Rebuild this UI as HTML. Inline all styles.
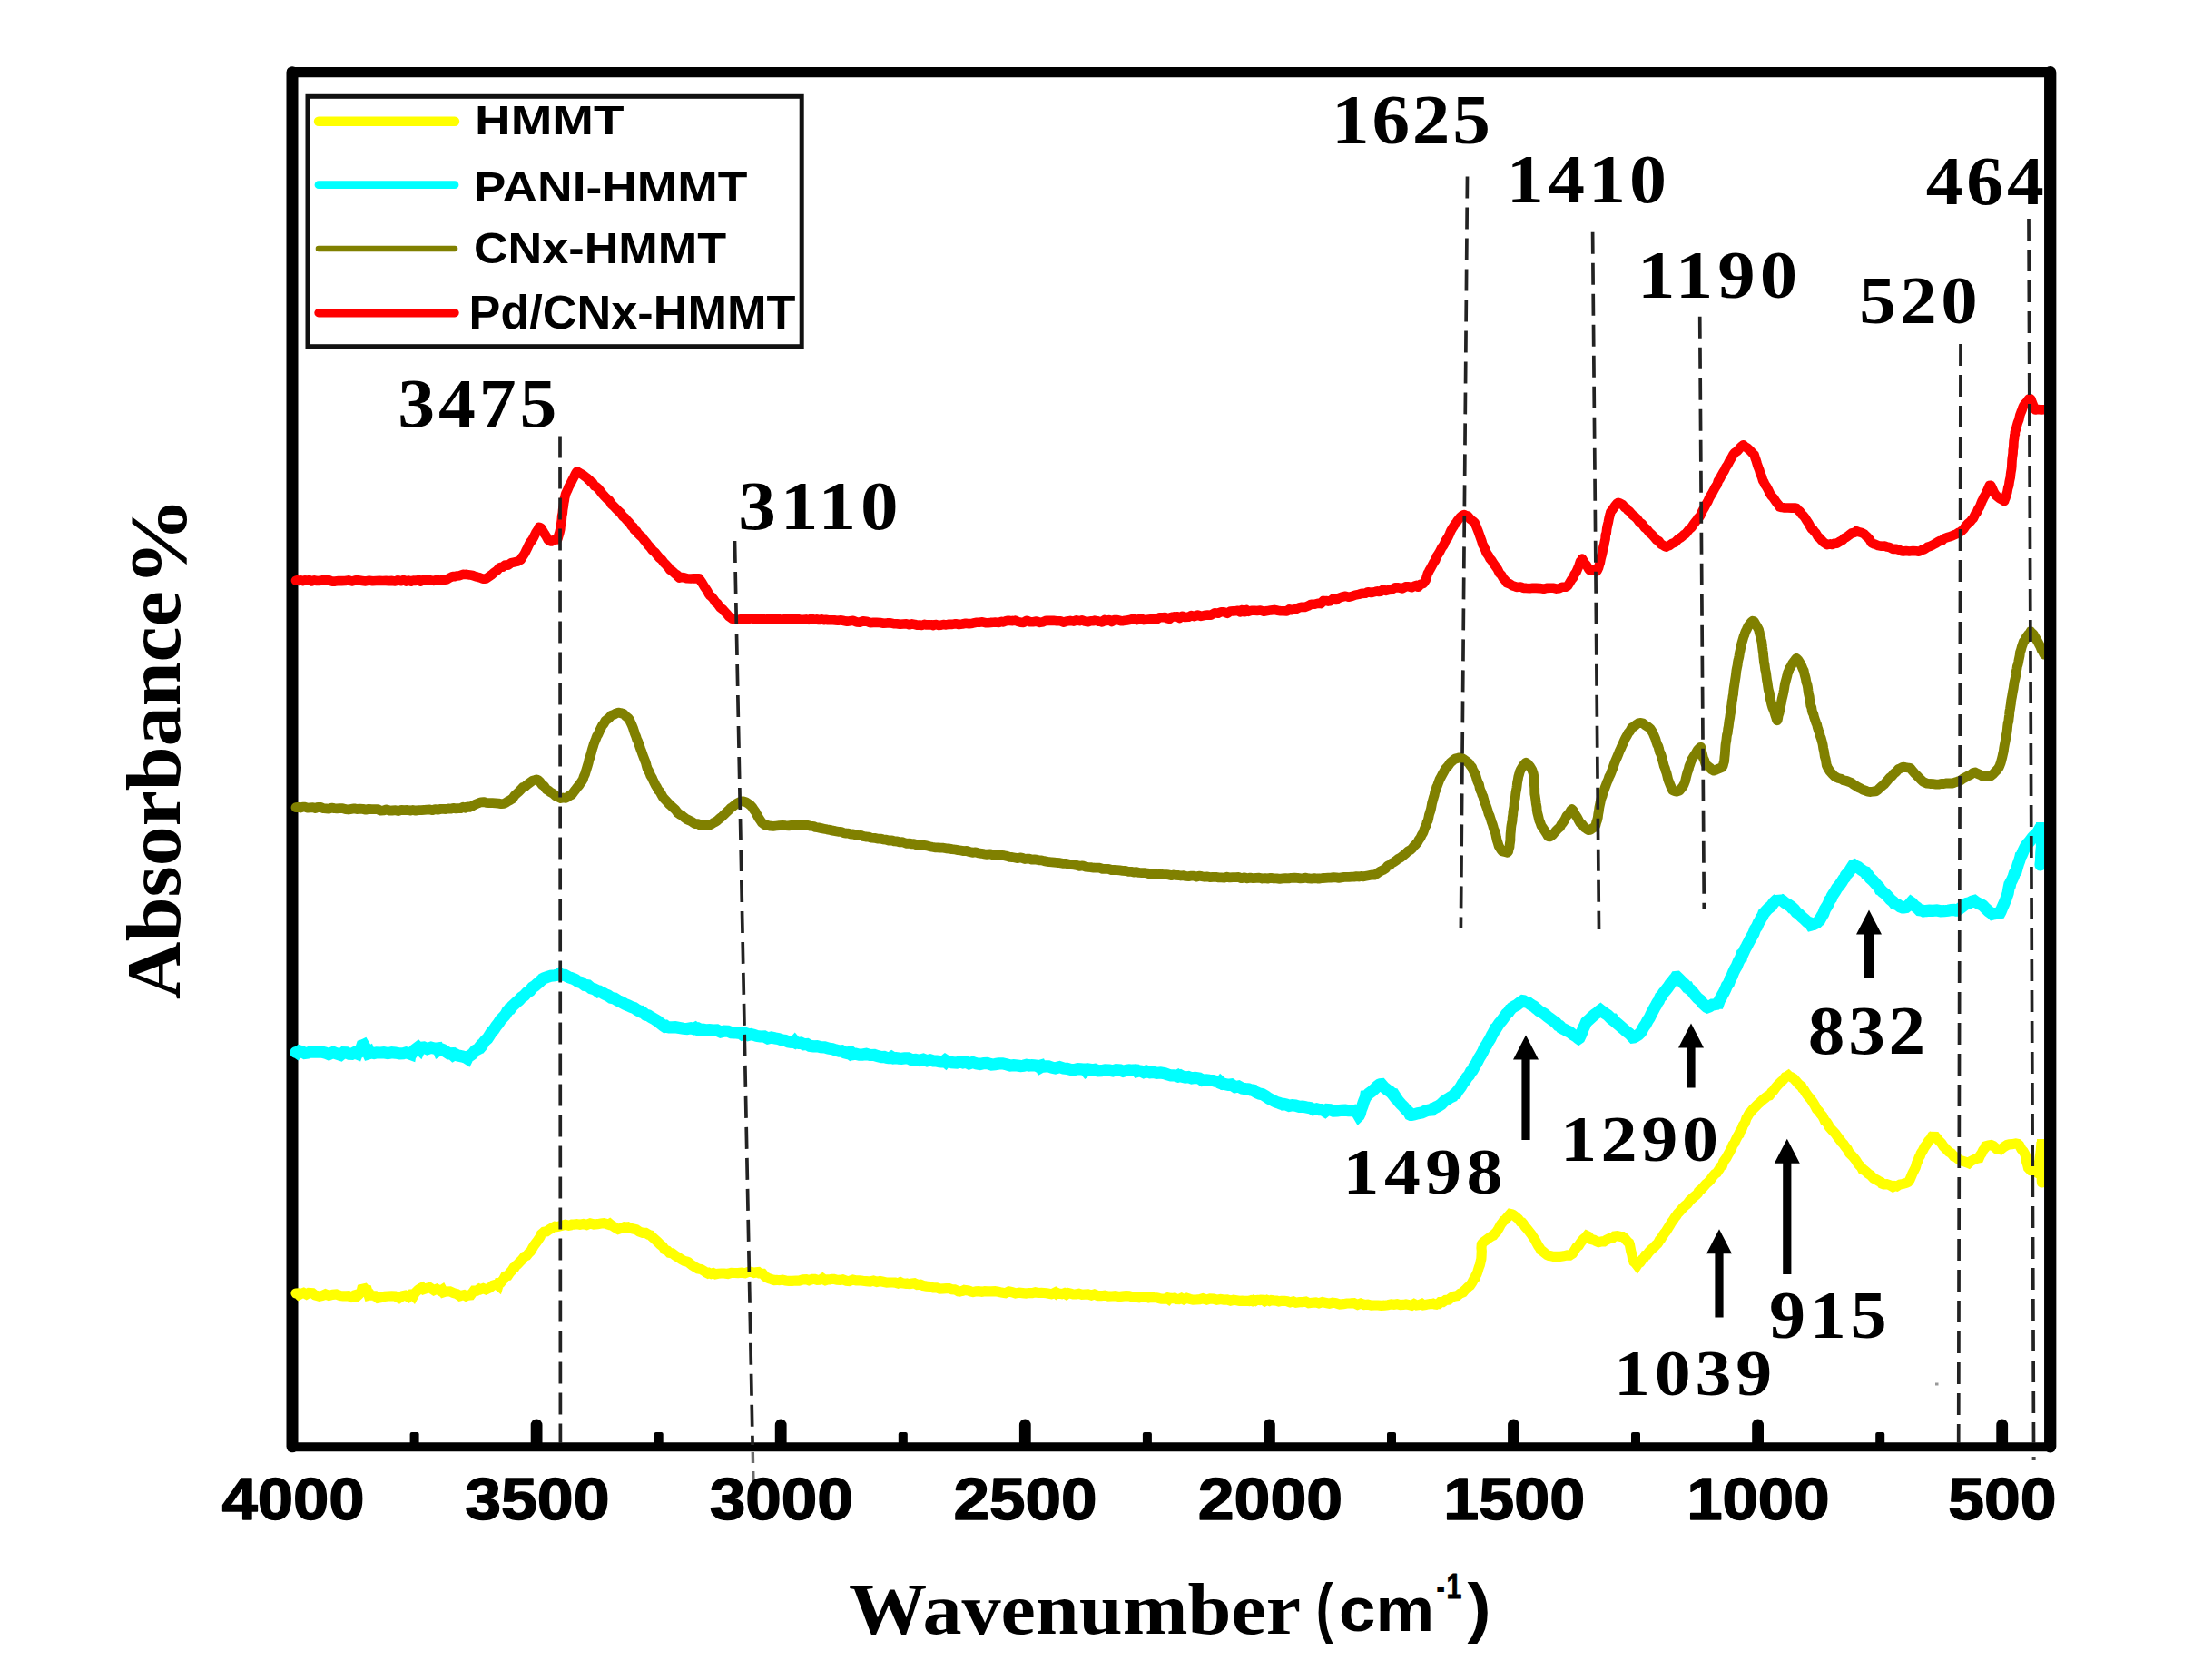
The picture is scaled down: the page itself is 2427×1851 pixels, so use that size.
<!DOCTYPE html>
<html lang="en"><head><meta charset="utf-8"><title>FTIR spectra</title>
<style>html,body{margin:0;padding:0;background:#fff}svg{display:block}</style></head><body>
<svg width="2427" height="1851" viewBox="0 0 2427 1851">
<rect x="0" y="0" width="2427" height="1851" fill="#ffffff"/>
<defs><clipPath id="plot"><rect x="300" y="60" width="1952.4" height="1560"/></clipPath></defs>
<line x1="322" y1="79.7" x2="322" y2="1593.8" stroke="#000" stroke-width="13" stroke-linecap="round" />
<line x1="322" y1="79.7" x2="2258.7" y2="79.7" stroke="#000" stroke-width="11.3" stroke-linecap="round" />
<line x1="322" y1="1594.3" x2="2258.7" y2="1594.3" stroke="#000" stroke-width="10" stroke-linecap="round" />
<g fill="none" stroke-linejoin="round" stroke-linecap="round" clip-path="url(#plot)">
<path d="M326.0,1425.0 327.5,1424.9 329.3,1426.6 331.8,1425.3 334.4,1424.4 337.6,1426.1 340.3,1424.5 344.3,1424.7 347.1,1427.0 351.8,1428.2 355.3,1427.4 358.6,1425.9 362.5,1427.4 366.6,1426.4 370.6,1426.0 374.7,1427.5 377.9,1427.9 381.3,1427.9 383.9,1427.7 387.4,1429.4 389.5,1428.8 391.0,1426.8 392.4,1426.4 393.9,1427.6 395.4,1426.2 398.0,1423.4 399.5,1417.1 400.9,1418.8 402.0,1420.6 404.3,1421.1 406.2,1427.2 407.8,1426.8 409.5,1430.2 410.9,1427.6 413.2,1427.8 416.3,1430.3 419.9,1429.5 423.9,1428.3 427.7,1428.0 431.4,1427.8 435.3,1428.0 439.7,1430.3 443.5,1427.8 446.5,1427.2 449.8,1429.0 452.8,1426.1 454.1,1426.1 455.6,1427.6 457.2,1424.6 460.5,1421.4 463.3,1419.4 465.0,1418.6 466.8,1420.5 470.2,1419.4 473.3,1418.6 478.0,1421.7 481.2,1420.2 485.1,1422.4 487.2,1421.0 488.7,1423.8 491.2,1423.0 495.7,1422.8 499.4,1424.6 503.4,1425.7 506.5,1427.8 509.8,1426.9 511.1,1426.7 513.4,1428.0 515.5,1427.1 518.6,1426.8 522.1,1422.2 525.1,1422.2 528.0,1420.1 529.5,1420.7 532.4,1419.5 535.5,1420.8 539.4,1419.0 542.8,1416.2 546.9,1415.0 548.9,1416.6 549.9,1413.2 551.9,1412.9 554.5,1409.9 556.5,1406.2 559.5,1405.5 561.7,1402.2 564.0,1399.7 565.8,1396.9 567.1,1396.4 568.3,1394.4 570.0,1393.3 572.3,1390.7 575.0,1388.1 577.6,1384.6 580.3,1383.5 582.4,1380.8 584.3,1379.0 585.6,1377.2 586.7,1375.0 588.4,1372.2 590.3,1369.6 592.6,1366.5 594.9,1363.1 596.3,1359.9 597.9,1358.5 599.2,1357.3 602.1,1356.9 605.5,1354.5 608.7,1352.7 611.4,1351.2 613.4,1351.5 615.3,1351.2 618.8,1350.4 622.8,1349.3 626.5,1350.2 628.8,1349.8 630.1,1349.1 632.5,1349.2 635.5,1348.7 638.9,1349.2 642.7,1348.5 646.4,1349.5 650.2,1347.9 654.2,1349.0 658.4,1348.7 662.1,1348.0 665.1,1347.6 667.9,1348.4 670.2,1349.2 671.7,1348.3 673.7,1350.0 676.6,1351.8 679.5,1353.7 681.0,1354.4 683.6,1353.6 687.7,1351.8 690.2,1352.3 691.9,1351.9 694.4,1353.2 697.6,1354.0 701.0,1354.8 704.2,1356.9 708.1,1358.3 711.3,1358.3 714.5,1360.3 716.7,1360.9 718.2,1362.5 719.6,1363.9 721.7,1365.6 724.6,1368.4 727.4,1371.2 730.1,1373.3 732.3,1376.7 733.7,1377.4 735.3,1378.0 737.5,1380.4 740.6,1380.9 744.2,1383.5 747.4,1385.4 750.8,1387.8 754.0,1389.4 756.8,1390.0 758.1,1390.6 760.1,1392.2 762.6,1394.1 765.6,1396.0 768.9,1397.9 772.5,1398.6 775.7,1400.4 778.2,1402.2 779.9,1403.1 781.2,1402.5 783.4,1403.5 785.7,1402.6 788.2,1403.8 791.1,1403.2 794.5,1403.0 797.8,1403.0 801.8,1403.5 805.7,1402.4 809.4,1402.5 813.0,1402.6 817.0,1402.2 820.9,1402.7 824.2,1401.5 827.4,1401.3 830.6,1402.4 833.0,1401.9 835.4,1401.6 837.0,1403.0 838.3,1403.0 840.2,1403.2 843.0,1406.5 846.0,1408.2 847.9,1408.9 849.1,1409.3 850.7,1409.8 853.1,1410.5 855.7,1410.3 858.5,1410.7 862.1,1410.1 865.5,1411.0 869.1,1411.4 872.7,1411.3 876.8,1411.0 880.4,1411.2 884.5,1409.9 888.2,1409.6 891.2,1410.8 894.9,1409.4 897.6,1409.4 900.5,1410.4 902.7,1410.3 905.0,1409.5 906.2,1408.7 908.1,1410.1 909.3,1410.7 911.7,1409.9 914.0,1409.9 916.2,1409.4 918.9,1409.3 922.2,1410.3 925.1,1410.4 928.5,1409.8 932.4,1411.2 935.5,1411.5 939.7,1410.0 943.3,1410.9 946.9,1410.8 950.8,1411.3 954.4,1411.6 958.7,1412.0 962.3,1411.1 966.0,1412.4 969.5,1411.5 973.0,1412.3 977.0,1413.2 980.3,1413.0 983.2,1413.0 986.2,1413.1 989.2,1414.0 991.8,1412.7 994.0,1413.8 995.8,1414.1 997.8,1414.4 999.2,1414.1 1000.4,1414.4 1002.1,1414.5 1004.7,1414.1 1007.3,1413.8 1010.5,1415.5 1013.9,1415.2 1017.0,1416.5 1020.7,1417.1 1024.3,1417.4 1028.2,1418.9 1032.0,1418.8 1035.3,1420.0 1039.3,1419.8 1042.5,1419.6 1045.6,1419.6 1048.6,1420.7 1051.7,1420.8 1053.8,1421.7 1055.8,1422.8 1057.3,1423.0 1058.3,1422.7 1060.4,1422.4 1062.5,1421.4 1064.3,1421.7 1066.8,1421.9 1069.1,1422.8 1072.1,1423.6 1075.2,1422.9 1078.2,1422.7 1081.6,1423.3 1085.1,1422.7 1088.2,1422.8 1091.9,1422.8 1096.0,1422.7 1099.9,1423.3 1103.2,1424.1 1107.6,1424.7 1111.4,1422.9 1115.0,1423.7 1118.7,1424.9 1123.0,1424.1 1126.5,1424.6 1130.4,1425.1 1133.6,1424.5 1137.3,1424.6 1140.5,1423.8 1143.8,1424.5 1147.3,1424.4 1150.0,1424.5 1152.9,1424.8 1155.6,1425.3 1158.3,1425.8 1160.0,1425.3 1162.4,1424.1 1163.9,1425.5 1165.1,1424.7 1166.6,1425.4 1168.3,1425.3 1169.9,1425.7 1172.5,1424.8 1174.7,1426.2 1176.7,1424.6 1179.6,1425.2 1182.2,1426.0 1185.2,1426.0 1188.6,1425.2 1191.9,1426.3 1195.2,1426.1 1198.6,1425.9 1202.4,1427.1 1205.7,1426.0 1209.7,1427.6 1213.2,1427.7 1217.1,1427.2 1221.0,1428.2 1225.3,1428.0 1228.9,1427.6 1233.0,1428.6 1236.5,1428.1 1240.6,1427.6 1243.9,1427.8 1247.9,1428.9 1251.4,1429.3 1254.9,1429.7 1258.7,1428.7 1261.9,1428.6 1265.4,1430.0 1268.2,1429.3 1271.5,1429.6 1274.0,1429.7 1276.9,1430.5 1279.6,1431.1 1281.6,1431.2 1283.6,1431.0 1285.5,1430.1 1287.4,1431.4 1288.5,1430.1 1289.9,1430.4 1291.7,1430.5 1293.8,1430.1 1296.1,1431.4 1298.6,1431.6 1301.5,1430.3 1304.2,1431.8 1307.5,1430.2 1310.9,1431.3 1314.4,1432.2 1317.6,1432.0 1321.7,1431.6 1325.1,1430.7 1329.4,1432.1 1333.1,1430.9 1337.0,1431.1 1340.5,1432.2 1344.6,1431.4 1348.4,1432.1 1351.8,1432.0 1355.6,1433.2 1359.0,1432.3 1362.4,1432.8 1365.4,1433.3 1368.5,1433.2 1371.4,1433.3 1374.0,1433.3 1376.1,1433.6 1378.2,1432.8 1379.7,1433.4 1381.0,1432.6 1382.8,1433.3 1383.8,1432.6 1385.6,1432.3 1387.7,1432.6 1389.2,1432.1 1391.5,1432.3 1393.4,1433.7 1395.8,1432.4 1398.5,1433.5 1400.6,1432.5 1403.3,1432.9 1406.3,1433.1 1408.9,1434.0 1411.8,1433.3 1415.1,1433.3 1418.1,1433.7 1421.3,1434.9 1424.8,1433.9 1427.8,1435.3 1431.6,1434.7 1434.7,1434.7 1438.6,1434.0 1441.9,1435.7 1445.6,1435.2 1449.6,1434.9 1452.9,1435.8 1456.8,1434.6 1460.8,1435.5 1464.5,1436.3 1468.0,1435.3 1472.0,1435.8 1476.0,1437.0 1480.1,1436.7 1483.8,1436.0 1487.8,1435.9 1491.7,1435.7 1495.6,1437.5 1499.1,1436.1 1502.8,1437.5 1506.8,1437.1 1510.7,1438.1 1514.3,1438.0 1518.0,1438.0 1521.5,1438.3 1525.2,1438.2 1529.0,1437.7 1532.7,1436.9 1535.8,1437.3 1539.2,1436.8 1542.7,1437.6 1546.0,1437.4 1548.9,1436.9 1552.4,1437.6 1555.2,1438.3 1557.9,1436.6 1560.6,1438.0 1563.4,1437.6 1566.3,1436.4 1568.3,1437.9 1570.7,1437.5 1573.1,1436.9 1575.1,1436.6 1577.3,1436.6 1578.9,1436.2 1580.7,1437.0 1582.4,1437.2 1583.6,1436.6 1584.8,1436.6 1586.5,1434.7 1589.5,1434.7 1592.6,1432.5 1596.0,1432.1 1599.1,1429.5 1601.6,1428.4 1603.3,1428.0 1605.5,1427.7 1608.7,1425.2 1611.9,1423.8 1613.5,1421.9 1614.8,1420.6 1617.2,1418.2 1619.6,1416.3 1621.9,1412.9 1623.7,1409.4 1625.0,1408.2 1625.6,1406.1 1626.9,1403.9 1628.0,1400.8 1629.4,1396.0 1630.4,1393.6 1631.2,1389.8 1631.8,1387.5 1631.9,1386.8 1632.1,1383.1 1632.3,1378.3 1632.0,1375.2 1632.3,1371.1 1632.9,1370.1 1634.5,1368.3 1637.1,1366.4 1640.7,1363.8 1643.6,1361.8 1645.2,1361.1 1646.5,1359.4 1648.8,1357.2 1651.0,1353.7 1653.4,1349.2 1655.4,1346.6 1656.6,1344.8 1658.2,1344.0 1661.0,1340.8 1663.8,1337.5 1665.8,1338.0 1667.0,1338.4 1669.8,1340.6 1672.7,1343.0 1675.0,1346.2 1676.9,1346.9 1678.2,1348.3 1680.1,1351.4 1682.5,1354.1 1684.9,1357.1 1686.8,1359.6 1688.0,1361.3 1689.3,1363.5 1690.8,1365.6 1692.8,1369.2 1694.7,1372.8 1696.4,1375.1 1697.5,1377.3 1698.9,1378.1 1701.9,1380.6 1704.5,1382.6 1706.5,1383.5 1707.9,1383.6 1711.3,1384.4 1714.9,1384.4 1718.8,1384.3 1722.8,1383.8 1726.6,1382.8 1729.5,1383.0 1731.3,1381.8 1732.5,1381.1 1734.6,1377.9 1736.7,1374.4 1739.2,1372.5 1740.5,1370.3 1742.0,1368.2 1744.4,1365.2 1746.9,1363.3 1748.3,1361.5 1750.0,1362.3 1752.9,1365.5 1756.2,1366.3 1758.2,1367.5 1761.1,1368.6 1764.7,1367.8 1767.2,1367.9 1769.8,1366.1 1773.0,1364.6 1776.7,1363.8 1778.6,1362.1 1781.6,1361.6 1785.1,1362.5 1787.7,1362.6 1789.7,1364.1 1793.0,1368.1 1794.7,1369.5 1795.4,1371.3 1795.9,1374.0 1796.8,1378.7 1798.0,1382.8 1798.5,1386.1 1799.7,1389.0 1800.0,1390.3 1801.8,1391.9 1803.5,1394.1 1804.6,1392.4 1807.0,1390.9 1809.3,1387.6 1811.4,1385.8 1812.6,1383.2 1814.3,1382.7 1816.7,1379.3 1819.7,1376.2 1822.4,1373.9 1824.5,1371.6 1826.1,1370.2 1827.3,1368.4 1828.3,1366.3 1829.8,1365.1 1831.7,1361.8 1833.7,1358.8 1835.3,1357.0 1837.7,1353.0 1839.8,1349.7 1841.4,1346.8 1843.5,1344.1 1845.3,1341.1 1846.7,1339.6 1848.1,1337.3 1848.9,1336.4 1849.8,1335.6 1851.5,1333.6 1853.6,1331.2 1856.3,1328.5 1858.9,1326.5 1861.4,1323.0 1864.1,1320.4 1866.3,1318.5 1868.7,1316.5 1870.5,1314.8 1871.3,1313.0 1872.7,1311.5 1874.4,1310.3 1876.7,1307.7 1879.2,1304.8 1881.7,1302.7 1884.2,1300.2 1886.8,1296.3 1889.2,1293.5 1891.4,1292.1 1893.1,1289.6 1894.3,1287.9 1894.8,1286.8 1896.1,1285.0 1897.5,1283.9 1898.7,1280.1 1900.3,1277.8 1901.9,1275.7 1904.0,1271.7 1905.5,1269.2 1907.6,1265.1 1909.1,1261.2 1910.7,1259.5 1912.3,1255.8 1913.6,1253.2 1915.2,1250.3 1916.1,1249.7 1916.6,1247.5 1917.5,1246.2 1919.1,1243.3 1920.4,1239.8 1922.3,1237.2 1924.0,1232.0 1925.5,1229.7 1927.2,1226.6 1928.1,1225.8 1929.2,1224.5 1931.3,1221.9 1933.6,1219.7 1936.2,1217.0 1939.2,1214.4 1942.0,1211.8 1944.9,1209.5 1947.4,1207.5 1949.5,1206.9 1950.6,1205.5 1951.8,1203.3 1954.0,1201.5 1956.3,1198.1 1959.1,1194.8 1962.2,1192.0 1964.6,1189.6 1966.9,1186.6 1968.8,1185.8 1970.1,1184.9 1971.0,1185.8 1973.2,1186.5 1976.1,1188.4 1978.9,1191.4 1981.3,1194.3 1983.5,1196.2 1984.8,1197.1 1985.8,1199.2 1987.3,1200.5 1988.8,1203.1 1990.7,1206.0 1993.0,1208.9 1994.9,1211.1 1997.3,1214.6 1999.4,1218.1 2001.5,1222.1 2003.7,1224.3 2005.6,1227.1 2007.7,1229.5 2009.3,1232.6 2010.4,1235.1 2011.6,1236.0 2012.5,1236.6 2014.0,1239.1 2015.4,1241.8 2017.3,1244.0 2019.7,1246.6 2022.0,1249.0 2024.4,1252.5 2026.6,1255.4 2029.0,1258.5 2031.1,1260.7 2032.6,1263.1 2034.2,1265.1 2035.2,1266.1 2036.3,1268.5 2037.7,1270.6 2039.9,1272.8 2042.2,1275.3 2044.6,1278.4 2046.9,1282.2 2048.9,1284.4 2050.6,1286.0 2051.9,1288.7 2053.3,1288.9 2055.3,1290.4 2058.1,1293.1 2060.9,1294.9 2064.0,1298.1 2067.0,1299.7 2069.6,1301.2 2072.0,1302.4 2073.2,1304.2 2075.1,1304.9 2078.6,1304.6 2082.2,1305.8 2085.4,1307.6 2087.5,1306.6 2089.6,1307.0 2093.1,1305.0 2096.7,1304.4 2100.2,1303.3 2102.0,1302.5 2103.0,1301.3 2104.0,1299.8 2105.6,1296.0 2107.0,1292.6 2108.6,1289.6 2110.3,1286.3 2111.7,1281.3 2113.1,1278.4 2114.2,1275.2 2115.4,1273.4 2116.1,1271.0 2117.0,1269.6 2118.4,1267.5 2120.2,1263.8 2122.6,1260.6 2124.6,1257.3 2126.6,1255.3 2128.6,1251.8 2129.5,1251.2 2130.5,1249.6 2131.5,1251.4 2133.5,1253.6 2136.0,1256.8 2138.8,1259.5 2141.1,1263.1 2142.4,1264.4 2144.1,1266.2 2146.9,1269.0 2149.7,1270.6 2152.4,1273.9 2154.1,1274.5 2156.5,1276.2 2159.4,1278.4 2163.3,1279.5 2166.5,1280.7 2168.8,1281.7 2171.0,1279.5 2174.4,1277.8 2178.4,1276.1 2180.3,1275.8 2181.4,1273.1 2183.2,1270.7 2184.8,1267.2 2186.6,1265.1 2187.5,1262.8 2190.7,1261.9 2193.5,1261.5 2196.0,1262.6 2199.4,1265.6 2201.7,1266.2 2204.0,1266.6 2207.5,1263.9 2211.2,1261.5 2213.6,1260.8 2216.5,1260.7 2220.7,1260.0 2223.2,1260.5 2224.6,1261.7 2227.0,1266.3 2229.1,1268.5 2230.7,1271.4 2231.3,1272.8 2231.8,1276.4 2232.7,1280.5 2233.6,1282.9 2234.5,1286.8 2235.4,1287.7 2237.4,1289.6 2240.6,1290.0 2242.2,1290.9 2243.3,1288.0 2244.7,1284.4 2246.4,1280.9 2247.0,1278.3 2247.2,1275.7 2247.5,1273.8 2248.2,1268.9 2248.5,1265.1 2248.9,1260.6 2249.1,1258.6 2248.8,1257.8 2249.0,1258.2 2248.9,1259.3 2248.8,1261.8 2249.0,1264.2 2249.1,1267.3 2249.3,1271.6 2249.3,1275.2 2249.1,1279.5 2249.2,1284.7 2249.3,1287.6 2249.2,1292.5 2249.4,1296.1 2249.3,1299.1 2249.3,1300.7 2249.5,1303.0" stroke="#ffff00" stroke-width="11.2" stroke-linejoin="miter" stroke-miterlimit="1.9"/>
<path d="M326.0,1159.5 327.0,1159.4 328.0,1160.1 330.1,1158.2 333.0,1159.0 335.7,1160.4 338.9,1160.1 342.3,1158.9 346.5,1159.1 350.4,1158.9 354.4,1159.1 358.3,1160.0 362.2,1161.6 367.2,1159.4 370.5,1160.8 375.2,1162.3 378.4,1159.7 381.8,1159.8 384.8,1161.3 387.5,1161.4 390.5,1159.8 392.0,1160.4 393.3,1160.9 393.6,1160.1 395.5,1159.5 397.2,1157.0 398.9,1152.0 400.2,1151.6 400.8,1151.3 403.1,1155.2 405.2,1159.8 406.7,1159.0 407.3,1160.4 409.0,1159.9 412.0,1160.5 415.0,1159.8 418.9,1160.0 422.6,1159.7 427.3,1160.6 431.5,1159.7 435.7,1160.1 440.4,1160.9 444.2,1160.8 447.5,1159.8 449.5,1160.3 452.1,1161.3 452.5,1158.9 454.2,1160.2 456.9,1156.6 460.5,1153.9 462.4,1155.8 463.1,1154.3 466.8,1153.9 470.7,1155.7 475.0,1154.2 479.1,1155.3 482.5,1154.9 483.3,1157.0 485.3,1155.7 488.2,1156.8 491.5,1158.9 494.5,1160.9 497.4,1160.8 499.2,1162.5 501.2,1161.3 504.4,1163.0 509.3,1163.9 512.7,1165.0 514.8,1166.3 515.4,1165.1 518.1,1162.9 520.7,1161.2 523.6,1157.4 526.7,1155.8 528.9,1153.0 530.0,1153.3 530.7,1152.5 531.7,1150.7 532.9,1148.6 534.7,1146.3 537.0,1144.4 539.2,1140.9 541.6,1137.1 544.0,1134.6 546.6,1130.7 549.2,1127.5 551.3,1124.0 553.8,1121.3 555.9,1119.2 557.5,1117.1 559.0,1114.0 560.0,1113.2 560.6,1112.8 561.3,1111.6 562.4,1111.4 564.2,1108.9 566.4,1106.7 569.0,1104.4 571.7,1102.2 574.5,1099.1 577.7,1096.9 580.6,1093.5 583.8,1091.6 586.6,1088.0 589.3,1086.3 591.9,1083.9 594.0,1082.4 595.7,1080.5 597.0,1079.5 597.7,1078.6 599.3,1077.7 602.8,1076.5 606.8,1075.3 611.2,1074.8 614.7,1074.1 616.5,1072.9 618.3,1074.2 622.5,1074.5 626.5,1076.8 628.6,1077.5 629.5,1077.7 631.4,1078.3 633.9,1079.5 636.9,1081.7 640.4,1082.5 644.1,1085.4 647.8,1085.9 651.2,1088.8 654.3,1089.6 656.5,1090.8 658.7,1092.5 659.7,1092.1 660.3,1092.2 661.8,1093.0 664.2,1094.2 666.7,1095.6 669.8,1096.9 673.3,1099.4 677.0,1100.1 680.7,1102.4 684.7,1104.2 688.4,1106.3 692.0,1107.8 695.4,1109.4 698.6,1110.5 701.1,1112.2 703.4,1113.5 705.0,1114.2 705.9,1114.7 706.8,1114.6 708.8,1116.0 711.2,1118.0 714.3,1118.9 717.7,1121.0 721.4,1123.1 725.0,1125.4 728.2,1128.1 730.8,1130.1 732.4,1131.2 733.8,1130.7 734.6,1131.3 737.0,1131.9 740.2,1131.8 743.9,1131.7 748.5,1132.5 752.8,1133.3 756.8,1133.5 761.0,1132.8 764.1,1133.6 766.1,1132.5 767.6,1133.6 768.6,1134.3 770.0,1133.5 772.6,1134.8 774.9,1134.3 778.3,1134.9 781.7,1134.7 785.7,1135.1 789.7,1135.0 793.9,1137.1 797.8,1136.1 802.0,1136.2 805.5,1137.6 809.3,1137.8 812.4,1138.2 815.2,1137.9 817.4,1139.5 819.1,1138.7 819.9,1138.1 820.8,1138.3 822.4,1138.9 824.5,1140.4 827.4,1139.6 830.5,1140.3 833.7,1141.4 837.5,1142.0 841.9,1141.9 845.9,1144.0 849.8,1143.1 854.2,1144.0 857.7,1144.6 861.8,1146.0 865.1,1146.5 868.3,1147.8 870.9,1148.2 873.1,1147.6 874.9,1148.4 875.6,1147.6 876.5,1148.7 878.0,1148.9 879.9,1149.4 882.2,1149.1 885.7,1150.8 889.1,1150.5 892.2,1152.3 896.2,1152.9 900.1,1152.7 904.1,1153.7 908.3,1153.8 912.4,1155.1 916.8,1155.6 920.5,1156.9 924.3,1158.0 927.2,1157.8 930.6,1159.8 932.9,1160.4 934.8,1159.7 936.6,1161.1 937.5,1160.5 938.4,1160.1 940.1,1161.6 942.9,1161.3 946.6,1162.1 950.2,1162.1 954.4,1161.3 958.6,1162.5 963.2,1162.4 967.1,1163.7 971.1,1164.7 974.2,1164.5 976.9,1165.4 978.7,1165.7 980.0,1165.6 981.2,1165.3 982.3,1164.6 984.5,1165.9 987.1,1165.6 990.1,1166.1 993.1,1166.3 996.6,1165.9 1000.4,1165.8 1004.5,1167.8 1008.6,1167.4 1012.9,1168.4 1017.2,1167.2 1021.3,1168.8 1024.8,1167.8 1028.4,1169.0 1031.9,1169.0 1035.0,1169.6 1037.2,1169.8 1039.3,1169.9 1040.5,1168.9 1041.6,1169.8 1042.4,1168.8 1043.5,1169.5 1045.1,1169.9 1047.3,1169.9 1049.0,1170.8 1051.6,1170.9 1054.2,1171.1 1057.7,1170.0 1060.8,1170.9 1063.9,1170.1 1067.5,1171.8 1071.6,1170.4 1075.6,1171.9 1079.7,1172.5 1083.9,1171.6 1087.6,1171.5 1092.3,1173.0 1096.3,1172.6 1100.4,1171.9 1104.5,1171.8 1109.1,1172.9 1112.9,1174.0 1116.8,1173.6 1120.7,1174.0 1124.4,1174.6 1127.7,1174.2 1130.9,1173.3 1133.8,1174.0 1136.7,1173.7 1139.3,1173.8 1141.7,1174.2 1143.3,1175.0 1144.7,1174.6 1146.2,1174.2 1146.8,1175.6 1147.5,1175.2 1149.3,1175.1 1152.1,1174.9 1155.1,1174.8 1158.8,1176.2 1162.6,1176.9 1167.3,1175.6 1171.5,1177.0 1175.5,1177.3 1179.9,1178.5 1183.6,1178.7 1187.5,1177.7 1190.8,1177.9 1192.9,1178.1 1194.9,1178.1 1196.2,1179.7 1196.8,1179.2 1198.7,1177.9 1200.4,1178.2 1203.5,1178.8 1206.2,1178.4 1209.6,1179.9 1213.5,1179.6 1217.5,1178.8 1222.0,1179.1 1225.9,1180.0 1229.8,1178.6 1234.1,1179.0 1237.4,1180.3 1241.4,1179.2 1244.0,1178.9 1247.2,1179.2 1249.3,1179.2 1250.8,1179.0 1251.7,1179.1 1252.8,1180.4 1254.6,1179.9 1256.9,1180.1 1259.9,1181.5 1262.9,1180.2 1267.0,1181.8 1270.9,1181.4 1274.5,1182.3 1278.5,1182.0 1283.0,1182.7 1286.7,1184.0 1289.8,1184.9 1292.9,1184.8 1295.0,1185.1 1296.7,1185.7 1298.0,1184.9 1299.0,1185.6 1300.5,1185.0 1302.7,1186.3 1305.8,1187.0 1309.2,1186.6 1312.9,1187.9 1316.7,1187.4 1321.1,1188.0 1324.8,1190.4 1329.0,1190.0 1332.7,1190.4 1336.2,1190.5 1338.9,1191.3 1341.8,1191.5 1343.5,1193.0 1344.3,1193.3 1345.0,1192.4 1347.3,1194.4 1349.6,1194.5 1353.1,1195.4 1356.6,1194.9 1360.8,1197.7 1364.5,1196.9 1368.6,1199.2 1372.1,1199.6 1375.6,1199.9 1378.1,1201.0 1380.2,1201.0 1380.9,1201.2 1382.0,1202.4 1384.6,1203.9 1387.6,1205.1 1390.8,1205.7 1394.4,1207.9 1398.3,1210.6 1402.6,1212.6 1405.7,1214.2 1409.1,1215.3 1411.0,1216.0 1412.1,1216.2 1413.1,1216.8 1414.7,1216.5 1417.2,1217.1 1420.2,1218.3 1423.6,1217.7 1427.2,1218.1 1431.3,1219.3 1435.0,1219.1 1439.3,1220.0 1443.3,1220.6 1446.9,1222.6 1450.4,1221.9 1453.3,1222.7 1455.8,1222.6 1457.7,1223.2 1458.5,1223.6 1459.9,1224.5 1462.2,1222.6 1465.5,1222.8 1469.0,1224.1 1473.4,1223.9 1477.8,1223.3 1482.1,1223.2 1485.5,1223.7 1489.1,1223.6 1491.2,1224.0 1492.2,1223.7 1493.8,1224.9 1496.0,1227.6 1497.0,1229.3 1497.2,1229.1 1498.4,1226.5 1499.2,1223.0 1500.9,1218.7 1502.1,1214.9 1503.1,1212.1 1504.3,1209.4 1504.6,1207.7 1505.6,1207.6 1508.0,1204.9 1511.2,1202.6 1514.4,1199.8 1517.1,1196.9 1519.6,1195.1 1520.6,1194.7 1521.9,1194.6 1524.7,1197.8 1527.9,1200.4 1531.4,1202.7 1534.1,1205.4 1535.5,1207.2 1536.4,1206.9 1538.3,1209.8 1540.5,1213.1 1543.6,1216.6 1546.4,1219.4 1548.9,1222.4 1551.6,1224.8 1553.2,1227.9 1554.1,1228.3 1555.2,1228.3 1558.1,1227.8 1562.1,1226.7 1566.4,1225.9 1570.8,1223.9 1574.5,1223.1 1577.6,1222.9 1578.8,1221.4 1580.0,1221.1 1582.0,1219.9 1584.6,1218.7 1587.9,1216.5 1591.2,1213.2 1594.9,1210.9 1597.8,1209.0 1600.8,1207.6 1602.6,1205.3 1603.6,1204.7 1604.3,1204.6 1605.3,1202.7 1607.0,1200.7 1609.4,1197.5 1611.4,1193.8 1613.8,1191.0 1616.1,1187.1 1618.5,1184.7 1620.4,1180.8 1622.1,1179.4 1623.1,1177.7 1624.0,1175.9 1624.1,1175.0 1625.4,1173.2 1626.3,1172.0 1627.8,1169.1 1629.5,1165.8 1631.7,1162.3 1633.7,1158.5 1635.7,1154.2 1637.7,1151.4 1639.8,1147.6 1641.8,1144.3 1643.6,1140.4 1644.9,1138.4 1646.1,1136.0 1647.0,1134.3 1647.5,1133.2 1648.4,1132.8 1649.9,1130.3 1651.9,1127.3 1654.5,1124.4 1657.2,1120.6 1659.7,1117.1 1661.8,1115.3 1663.6,1112.4 1664.2,1112.1 1665.6,1110.4 1668.3,1108.7 1671.4,1107.2 1674.6,1104.6 1677.4,1102.7 1678.6,1102.9 1679.9,1103.7 1683.0,1104.2 1686.1,1106.6 1689.1,1108.5 1690.3,1109.1 1691.5,1110.3 1693.0,1111.5 1695.4,1113.7 1698.4,1115.4 1701.4,1117.2 1704.8,1120.1 1708.0,1122.4 1711.2,1124.8 1714.2,1127.0 1716.5,1129.6 1718.2,1130.2 1719.1,1131.1 1720.0,1132.4 1722.8,1133.8 1725.7,1135.4 1729.5,1137.2 1732.7,1139.8 1736.0,1141.6 1738.5,1143.8 1739.1,1144.2 1740.0,1143.6 1741.2,1141.0 1742.6,1137.7 1744.0,1133.9 1745.5,1130.8 1747.0,1127.4 1747.5,1126.2 1748.6,1125.2 1750.7,1123.4 1753.8,1120.4 1756.7,1117.9 1760.0,1115.5 1762.1,1113.8 1763.3,1112.9 1764.8,1114.1 1767.9,1116.4 1771.6,1118.8 1774.8,1122.1 1776.1,1123.2 1777.4,1123.2 1779.2,1125.6 1781.6,1127.6 1784.7,1130.3 1788.1,1133.2 1791.4,1136.2 1794.7,1138.5 1797.1,1141.0 1798.9,1143.0 1800.1,1142.8 1802.0,1141.9 1805.0,1140.1 1807.0,1138.1 1807.6,1137.5 1808.7,1136.0 1809.8,1133.6 1811.2,1131.1 1813.1,1128.5 1815.1,1124.5 1817.2,1121.5 1819.0,1117.7 1821.0,1113.7 1822.6,1110.6 1824.5,1107.4 1826.1,1104.4 1827.4,1102.8 1828.2,1100.6 1828.5,1100.1 1829.1,1098.7 1830.7,1097.4 1832.6,1094.0 1835.1,1091.1 1837.4,1088.1 1840.2,1084.0 1842.2,1081.5 1844.5,1078.5 1845.7,1077.5 1846.3,1076.5 1847.6,1076.4 1850.0,1078.6 1853.0,1081.8 1856.0,1084.6 1858.2,1087.3 1859.4,1087.4 1860.2,1089.1 1862.1,1090.2 1864.4,1092.6 1867.2,1096.3 1870.2,1099.6 1873.2,1102.0 1875.9,1105.5 1878.2,1107.7 1880.2,1109.5 1881.0,1109.9 1883.1,1109.1 1886.8,1106.9 1890.8,1106.3 1892.7,1104.4 1893.5,1104.5 1894.3,1102.3 1895.1,1100.6 1896.2,1098.9 1897.7,1095.9 1899.1,1093.6 1901.1,1089.5 1902.4,1086.0 1904.6,1083.3 1906.2,1078.6 1907.9,1075.8 1909.6,1071.4 1911.5,1067.5 1913.2,1064.7 1914.5,1061.5 1915.7,1058.7 1917.1,1056.5 1918.0,1054.1 1918.7,1053.9 1919.1,1052.1 1919.3,1051.0 1920.3,1050.4 1921.4,1048.0 1922.8,1045.0 1924.4,1042.2 1926.0,1039.2 1927.8,1035.7 1930.0,1031.7 1931.9,1028.4 1933.6,1023.6 1935.6,1020.9 1937.4,1016.6 1939.1,1014.0 1940.4,1011.1 1941.4,1010.0 1942.4,1007.8 1942.8,1006.6 1943.8,1005.7 1945.8,1003.3 1948.2,1000.8 1951.3,998.3 1954.0,994.6 1956.7,992.0 1958.7,990.4 1959.4,988.6 1960.7,990.7 1963.1,991.9 1966.7,994.8 1969.8,996.7 1972.4,998.4 1973.8,1000.0 1974.6,1000.1 1976.7,1002.0 1979.1,1005.2 1981.8,1007.1 1985.1,1010.4 1988.1,1012.8 1990.9,1015.7 1993.5,1016.7 1995.0,1019.1 1996.1,1018.8 1998.0,1018.5 2001.7,1016.6 2003.8,1014.5 2004.6,1014.0 2005.8,1011.7 2007.3,1009.0 2008.7,1006.9 2010.5,1002.0 2012.5,998.9 2014.3,995.7 2015.9,991.6 2017.5,989.9 2018.3,987.5 2019.1,986.1 2019.7,985.2 2021.6,982.3 2023.7,978.7 2026.1,976.0 2028.8,972.1 2030.9,968.6 2032.6,966.7 2033.4,964.6 2034.3,963.5 2036.6,961.2 2039.2,957.1 2041.4,953.7 2042.7,953.2 2043.9,954.1 2047.1,955.5 2050.6,958.3 2053.6,960.3 2055.2,960.8 2056.2,963.1 2058.0,964.2 2060.3,967.6 2063.4,970.3 2066.1,973.3 2068.3,975.8 2070.3,977.9 2071.3,980.2 2072.2,980.6 2074.2,982.8 2076.9,984.8 2080.0,988.0 2082.6,991.1 2084.6,992.7 2085.6,993.5 2087.2,995.6 2090.0,996.3 2093.4,999.0 2096.0,1000.0 2097.3,1000.0 2099.8,999.5 2103.4,996.5 2105.4,994.2 2106.4,994.9 2108.9,997.8 2112.0,1000.0 2114.5,1002.7 2116.0,1002.8 2117.1,1002.9 2119.2,1004.0 2121.7,1003.6 2125.5,1003.1 2129.5,1003.4 2133.7,1003.0 2138.0,1003.8 2142.2,1003.7 2146.2,1003.3 2149.8,1002.6 2152.9,1002.4 2155.1,1003.1 2155.9,1003.1 2157.8,1002.0 2161.4,999.4 2164.7,996.6 2166.6,995.6 2169.1,995.0 2172.6,993.2 2175.1,992.5 2177.1,994.0 2181.0,996.1 2183.2,997.0 2184.7,997.9 2187.5,1000.9 2190.9,1004.0 2193.8,1006.1 2195.0,1007.3 2197.4,1006.7 2201.2,1006.1 2203.4,1005.7 2204.1,1004.5 2205.6,1000.6 2207.1,997.3 2209.0,992.8 2209.9,990.7 2210.6,988.0 2211.2,986.7 2212.1,984.1 2212.9,979.2 2213.7,975.4 2214.5,974.8 2214.9,972.5 2216.3,970.1 2218.2,965.8 2219.4,962.1 2220.2,960.8 2221.0,960.2 2222.0,956.7 2223.3,952.1 2224.7,948.5 2225.8,944.7 2226.2,942.9 2227.3,941.8 2229.0,937.7 2231.1,933.3 2232.0,931.8 2233.6,929.8 2236.2,926.9 2239.0,923.0 2240.5,921.5 2241.8,920.1 2244.8,917.3 2247.2,913.0 2248.3,912.6 2248.5,912.6 2248.6,916.3 2249.1,919.6 2249.1,923.8 2249.4,927.7 2249.4,930.5 2249.6,932.2 2249.5,932.9 2249.1,936.4 2248.8,940.2 2248.6,945.1 2248.5,948.4 2248.1,952.0 2248.0,953.0" stroke="#00ffff" stroke-width="13.2" stroke-linejoin="miter" stroke-miterlimit="1.9"/>
<path d="M326.0,889.7 328.6,889.3 331.3,890.0 333.6,889.2 336.3,889.2 339.0,890.2 341.8,889.9 344.7,889.6 347.6,890.5 350.3,889.3 353.5,889.5 356.4,890.7 359.3,890.8 362.3,891.1 365.4,890.1 368.4,890.6 371.3,890.8 374.4,890.6 377.4,890.6 380.8,891.6 383.9,892.0 387.1,891.4 390.3,890.8 393.2,891.5 396.6,891.2 399.8,891.4 403.0,892.1 406.3,891.4 409.4,891.7 412.8,891.7 416.2,891.6 419.3,893.2 422.8,892.9 425.7,891.9 429.3,893.2 432.2,893.0 435.8,892.7 439.0,893.5 442.2,892.4 445.4,892.7 448.7,892.4 451.8,893.1 454.9,892.5 458.0,893.1 461.2,892.7 464.2,892.6 467.4,892.3 470.3,892.1 473.5,892.0 476.5,892.7 479.4,891.7 482.2,892.1 485.6,891.4 488.2,891.4 491.2,891.5 493.9,891.0 496.9,891.2 499.4,890.4 502.4,890.9 504.8,890.6 507.4,890.6 510.1,889.2 512.7,890.2 515.2,888.8 517.4,889.4 520.4,888.0 523.6,886.3 526.9,884.9 529.9,883.8 532.7,883.6 535.5,884.3 538.9,884.7 542.5,884.6 545.9,884.8 549.2,885.1 552.3,885.7 555.2,885.4 557.7,884.2 559.8,882.7 562.2,881.4 564.8,879.8 567.0,876.4 569.5,874.1 571.9,871.9 573.9,869.9 576.1,867.5 578.3,866.8 581.0,864.3 584.0,862.1 586.8,860.1 589.3,859.4 591.2,858.8 592.8,859.6 595.0,861.6 597.0,864.5 599.6,866.3 601.9,869.7 604.2,871.0 606.3,872.7 609.1,874.2 612.1,876.8 615.3,878.3 617.9,879.5 620.4,879.0 623.3,879.3 625.7,878.0 627.5,876.6 629.7,875.8 632.0,872.7 633.8,870.4 636.0,867.3 638.1,865.0 639.8,862.4 641.0,860.8 642.3,858.7 643.2,855.6 644.5,852.9 645.3,850.1 646.3,846.9 647.3,843.6 648.3,840.2 648.9,837.2 649.9,834.5 650.8,831.6 651.8,828.0 652.7,824.6 653.5,822.2 654.2,819.7 655.3,817.0 656.3,814.5 657.6,811.0 658.8,809.2 660.4,805.7 662.0,802.4 663.6,799.2 665.3,797.3 666.9,794.2 668.8,792.7 670.9,791.1 673.6,788.1 676.4,787.3 679.0,785.8 681.2,785.1 683.5,785.5 686.8,786.5 689.5,789.1 691.9,791.1 693.5,793.0 694.8,796.0 696.1,798.8 697.3,801.7 698.5,805.5 699.6,808.8 700.8,811.7 701.7,814.7 702.7,816.7 703.8,819.6 704.8,822.7 705.7,825.2 706.9,828.3 707.7,830.7 708.9,833.9 710.2,837.2 711.4,840.2 712.2,843.4 713.3,847.2 714.5,849.1 715.8,851.8 716.8,854.6 718.2,856.7 719.2,859.0 720.7,862.1 722.1,864.9 723.7,867.6 725.1,870.5 727.0,872.2 728.7,875.4 730.2,878.1 732.0,880.3 733.5,881.9 735.3,883.7 737.4,886.1 739.5,887.9 741.7,889.9 744.2,892.2 746.4,895.4 748.9,897.3 751.3,898.6 753.7,900.6 756.2,902.5 758.4,903.5 760.4,904.4 762.9,905.8 765.8,907.6 769.0,907.7 771.8,909.4 774.3,909.5 776.8,909.2 779.6,909.0 783.0,908.6 786.1,906.5 788.1,905.6 790.6,903.8 793.1,901.6 795.5,899.7 797.9,897.4 800.3,895.0 802.4,893.1 804.7,890.6 806.8,889.2 809.4,887.0 812.2,885.0 814.7,883.6 816.9,882.9 819.4,882.9 822.3,884.1 824.6,885.5 826.4,886.9 828.5,889.0 830.6,892.2 832.2,894.4 833.9,897.7 835.5,900.6 837.6,903.7 839.4,906.4 841.7,908.1 843.7,909.3 845.9,909.5 848.8,910.2 851.9,910.4 855.2,910.0 858.6,909.6 862.1,909.4 865.5,909.7 869.0,909.9 872.3,909.2 875.9,909.3 879.0,908.6 882.2,908.8 884.8,909.5 887.5,908.8 890.1,909.4 893.0,910.2 895.8,910.3 898.5,911.5 901.6,911.9 905.0,912.6 907.9,913.2 911.0,913.8 914.1,914.3 917.2,915.2 920.3,915.7 923.3,916.3 926.5,916.3 929.5,917.7 932.3,918.2 934.8,918.1 937.2,919.2 939.7,919.0 942.6,919.9 945.3,920.6 948.2,920.3 950.9,921.4 953.9,922.0 957.1,922.1 960.1,923.2 963.3,923.3 966.6,924.1 969.8,924.1 972.8,924.8 976.0,925.1 979.2,926.2 982.3,925.8 985.2,926.9 988.2,927.0 991.0,927.9 993.9,927.7 996.3,928.5 998.9,929.4 1001.6,929.1 1004.3,929.8 1006.9,929.6 1009.6,930.9 1012.3,931.1 1015.3,931.5 1018.1,931.4 1021.1,931.8 1024.1,932.7 1027.0,933.3 1029.9,933.8 1032.9,933.8 1036.2,934.2 1039.4,934.2 1042.3,934.8 1045.7,935.0 1048.7,935.6 1052.2,936.0 1055.3,936.6 1058.3,937.0 1061.6,937.6 1065.0,937.5 1068.1,938.5 1071.3,939.3 1074.7,938.8 1078.0,939.9 1081.2,940.3 1084.3,940.9 1087.4,941.4 1090.9,940.8 1094.0,942.0 1097.2,941.7 1100.1,942.5 1103.4,942.3 1106.2,942.7 1109.4,943.4 1112.4,944.4 1115.0,944.5 1118.0,945.0 1121.1,945.6 1123.8,944.9 1126.3,945.4 1129.1,946.5 1131.8,946.1 1134.3,946.2 1136.9,947.2 1139.5,946.9 1141.9,947.2 1144.6,947.8 1147.5,947.9 1150.1,948.6 1152.8,949.1 1156.0,949.7 1158.7,949.8 1161.6,950.1 1164.5,950.5 1167.7,950.7 1170.5,951.3 1173.8,951.3 1176.9,952.0 1179.9,952.7 1183.0,952.8 1186.1,953.3 1189.1,954.3 1192.5,953.8 1195.7,955.1 1198.6,955.4 1201.8,955.6 1205.1,956.2 1208.4,956.2 1211.6,956.2 1214.7,957.4 1217.9,957.3 1221.1,957.4 1224.5,958.5 1227.4,958.3 1230.8,958.6 1233.7,958.9 1236.7,959.3 1239.9,959.5 1243.2,960.4 1246.0,960.3 1249.0,961.0 1252.2,960.7 1255.0,961.4 1257.9,961.6 1260.8,961.7 1263.6,962.0 1266.4,962.9 1269.2,962.6 1272.2,962.6 1274.9,963.7 1277.4,963.2 1279.8,963.5 1282.5,963.6 1285.1,963.7 1287.5,963.9 1290.2,964.6 1293.0,964.0 1295.6,964.4 1298.4,964.5 1301.0,965.0 1303.9,964.7 1306.6,965.4 1309.4,965.6 1312.2,965.2 1315.1,965.1 1318.2,966.0 1321.0,965.2 1324.2,965.7 1327.2,966.3 1330.1,965.8 1333.1,966.7 1336.1,966.4 1339.3,966.3 1342.6,966.9 1345.5,966.9 1348.8,967.1 1351.8,966.2 1354.9,966.9 1358.3,966.6 1361.4,966.7 1364.6,966.5 1367.6,967.7 1371.2,966.8 1374.2,967.8 1377.4,967.1 1380.8,967.7 1384.0,967.4 1387.2,967.1 1390.6,968.0 1393.8,967.6 1397.0,968.1 1400.1,967.3 1403.4,967.9 1406.6,967.8 1409.9,968.3 1413.2,967.9 1416.3,967.6 1419.6,967.9 1422.7,967.3 1426.2,967.2 1429.4,967.4 1432.6,967.9 1435.5,967.7 1438.8,967.2 1441.9,967.9 1444.8,968.1 1448.2,967.7 1451.1,968.0 1454.1,968.0 1457.2,967.5 1460.2,967.3 1463.2,967.1 1466.2,967.1 1469.1,966.7 1472.3,966.9 1474.9,967.3 1477.7,966.9 1480.9,966.4 1483.4,966.3 1486.3,966.4 1489.2,966.2 1491.7,966.1 1494.4,965.6 1497.0,966.0 1499.5,965.4 1502.4,965.8 1504.8,965.3 1507.6,964.7 1511.2,963.9 1514.1,964.2 1516.4,962.9 1518.6,961.3 1521.3,959.6 1523.8,958.5 1526.5,956.9 1528.7,954.2 1531.4,952.9 1533.5,951.0 1535.5,950.0 1537.7,948.4 1540.4,946.3 1543.0,944.9 1545.8,942.7 1548.4,940.6 1551.0,938.1 1553.8,936.6 1556.2,934.3 1558.1,931.8 1560.0,930.0 1561.7,928.1 1563.1,925.3 1564.9,923.0 1566.3,919.9 1567.9,917.4 1569.2,913.5 1570.3,910.8 1571.5,908.8 1572.0,906.0 1573.1,904.2 1573.9,900.8 1574.5,897.6 1575.4,894.9 1576.4,891.6 1576.9,889.0 1577.6,885.0 1578.4,882.2 1579.4,878.5 1580.2,876.1 1580.8,872.8 1581.8,870.6 1582.6,867.6 1583.6,865.4 1584.8,862.2 1586.0,858.9 1587.7,855.7 1589.2,852.9 1590.9,849.8 1592.4,847.1 1594.0,845.4 1595.5,843.8 1597.8,840.4 1600.5,838.1 1602.9,836.1 1605.2,835.6 1607.1,835.0 1609.4,834.8 1612.1,836.2 1615.2,838.6 1618.1,840.8 1620.1,843.8 1621.5,845.1 1622.5,848.0 1623.8,850.5 1625.0,852.4 1626.2,855.7 1627.2,859.4 1628.3,862.1 1629.5,864.5 1630.2,868.3 1631.1,871.0 1632.2,873.2 1632.9,875.7 1633.9,877.6 1634.8,881.1 1635.7,884.1 1636.9,886.7 1638.1,890.1 1639.0,892.9 1640.0,896.6 1641.2,899.0 1642.2,902.3 1643.4,906.0 1644.4,908.6 1645.1,911.3 1645.9,914.0 1646.8,915.7 1647.7,918.5 1648.4,922.2 1649.2,925.8 1650.2,928.7 1651.2,932.2 1652.5,934.3 1653.8,936.4 1654.8,937.7 1657.9,938.6 1660.6,939.3 1661.7,938.1 1662.1,935.7 1663.0,933.0 1663.2,930.4 1663.9,925.8 1663.9,923.1 1664.1,918.7 1664.5,915.0 1664.7,911.9 1665.1,908.9 1665.7,906.2 1666.1,903.6 1666.2,900.9 1666.8,897.4 1666.9,895.0 1667.4,891.9 1668.0,888.5 1668.1,885.7 1668.6,881.7 1669.3,879.2 1669.6,876.3 1669.9,873.6 1670.5,870.4 1670.9,868.1 1671.2,865.9 1671.6,862.1 1672.2,859.3 1672.8,855.7 1673.6,853.2 1674.4,850.0 1675.4,847.9 1677.1,845.2 1679.4,841.9 1681.1,840.3 1683.1,841.6 1685.7,844.7 1687.7,848.0 1688.5,850.1 1689.2,852.2 1689.8,855.5 1690.2,858.4 1690.1,861.3 1690.4,865.0 1690.7,868.6 1690.7,871.4 1690.8,874.7 1691.2,876.9 1691.6,879.9 1691.9,882.2 1692.3,885.5 1693.0,889.2 1693.2,892.4 1693.7,895.4 1694.4,898.1 1695.2,901.5 1695.8,904.1 1696.9,906.5 1698.0,909.7 1700.0,912.6 1701.9,915.5 1704.0,918.7 1705.5,921.6 1707.2,921.8 1708.6,921.3 1710.9,919.5 1713.7,916.0 1716.2,913.3 1718.5,911.4 1720.0,908.5 1721.9,906.2 1723.9,903.2 1725.9,899.0 1727.9,897.0 1729.6,894.6 1730.8,892.6 1731.7,891.7 1732.8,892.5 1734.1,895.4 1735.6,897.6 1737.6,900.7 1739.3,904.0 1741.0,906.9 1743.0,908.4 1745.4,911.5 1748.1,913.4 1749.8,914.5 1752.2,914.3 1754.9,912.2 1756.8,911.5 1758.0,909.0 1758.7,906.1 1759.6,903.6 1760.3,900.8 1760.7,897.3 1761.3,894.1 1761.8,890.1 1762.4,887.2 1763.0,884.5 1763.5,881.9 1764.2,879.3 1765.3,876.6 1766.1,873.3 1767.2,870.8 1768.3,867.5 1769.5,864.4 1770.6,861.4 1771.7,859.2 1772.8,855.7 1774.0,853.6 1775.2,850.5 1776.2,847.8 1777.2,845.5 1778.0,843.0 1779.1,839.7 1780.4,836.8 1781.6,834.0 1783.1,830.4 1784.1,827.8 1785.4,825.0 1787.0,821.3 1788.1,819.1 1789.5,815.8 1790.6,813.5 1792.2,810.8 1793.7,807.8 1795.8,805.4 1797.6,801.8 1799.7,800.7 1802.2,798.7 1804.9,796.8 1807.7,796.4 1810.0,797.0 1812.9,799.2 1815.6,800.9 1817.8,802.5 1819.3,804.8 1821.0,807.5 1822.4,810.9 1823.7,813.9 1824.6,816.9 1825.8,820.4 1827.0,822.6 1827.6,825.2 1828.5,828.6 1829.6,830.6 1830.6,833.9 1831.4,836.9 1832.4,840.5 1833.3,844.1 1834.3,846.4 1835.0,849.1 1836.0,851.7 1836.8,855.0 1837.7,858.9 1838.9,862.0 1840.0,864.7 1841.3,867.9 1842.6,870.6 1844.9,871.7 1847.2,872.1 1850.3,871.1 1852.9,867.9 1854.3,866.0 1855.5,863.4 1856.6,860.6 1857.4,857.0 1858.3,853.4 1859.1,850.5 1860.2,847.7 1860.9,844.5 1862.1,841.3 1863.0,838.6 1864.6,835.5 1866.4,832.6 1868.5,829.4 1870.6,825.9 1872.3,824.1 1873.3,823.3 1873.8,823.4 1874.4,826.6 1875.5,830.8 1876.4,835.0 1877.7,837.7 1878.8,841.3 1880.7,843.5 1883.3,845.5 1885.9,848.0 1888.0,849.1 1890.9,848.1 1894.6,846.6 1897.0,845.6 1898.2,843.6 1898.8,841.3 1899.6,838.6 1899.9,834.5 1900.3,831.1 1900.5,828.1 1900.7,824.8 1901.0,820.9 1901.3,818.6 1901.9,815.3 1902.1,813.2 1902.5,809.9 1903.3,807.3 1903.7,803.2 1904.3,800.3 1904.7,796.9 1905.1,793.8 1905.7,790.9 1906.1,787.5 1906.6,784.9 1906.9,780.9 1907.6,778.2 1907.9,775.6 1908.1,773.0 1908.7,770.1 1909.0,767.2 1909.6,764.8 1909.7,762.1 1910.2,758.3 1910.6,755.6 1911.1,752.3 1911.6,748.9 1912.2,745.1 1912.5,742.7 1912.9,739.0 1913.5,735.9 1914.2,732.7 1914.4,730.3 1914.9,727.5 1915.5,725.2 1916.0,722.8 1916.5,719.2 1917.1,716.7 1917.8,712.9 1918.5,710.2 1919.3,707.3 1920.1,704.5 1921.1,701.1 1922.0,699.0 1922.8,696.4 1924.3,693.4 1925.9,690.0 1927.9,687.3 1929.5,685.2 1930.8,684.2 1932.2,684.5 1934.2,688.0 1936.2,691.1 1937.6,693.9 1938.2,696.6 1938.9,699.2 1939.7,701.6 1940.2,704.4 1940.9,707.3 1941.3,710.5 1941.6,713.4 1942.1,717.3 1942.6,720.3 1942.7,722.9 1943.2,726.8 1943.4,729.7 1944.0,732.0 1944.4,735.2 1944.7,737.8 1945.3,740.2 1945.7,742.5 1946.1,745.8 1946.6,749.6 1947.1,751.9 1947.6,755.6 1948.1,759.1 1948.8,761.8 1949.5,764.3 1949.8,768.0 1950.6,771.1 1951.1,773.2 1951.8,776.3 1952.8,779.6 1954.3,783.0 1955.6,787.3 1956.7,790.6 1957.4,792.9 1957.8,793.8 1958.2,793.4 1958.7,791.1 1959.1,788.5 1960.1,785.6 1960.8,781.9 1961.6,778.0 1962.3,775.1 1963.0,770.8 1963.5,768.7 1964.1,766.4 1964.7,763.6 1965.4,759.9 1965.9,756.8 1966.4,753.7 1967.2,750.8 1968.1,747.3 1968.8,744.8 1969.5,741.5 1970.5,739.5 1971.3,736.8 1972.7,734.9 1974.6,731.1 1976.5,728.7 1978.2,726.2 1979.1,725.4 1980.7,726.9 1982.8,730.0 1984.7,733.5 1986.2,737.3 1987.2,739.0 1987.7,741.7 1988.6,745.0 1989.3,747.7 1989.9,751.4 1990.9,754.1 1991.5,757.1 1992.0,761.0 1992.5,764.3 1993.3,767.8 1993.6,770.9 1994.3,773.5 1994.8,777.3 1995.8,779.8 1996.2,782.6 1996.8,785.0 1997.9,787.1 1998.5,789.9 1999.5,792.9 2000.6,796.1 2001.6,798.2 2002.3,801.4 2003.6,805.3 2004.5,807.7 2005.2,810.6 2006.2,813.2 2006.8,815.4 2007.7,818.6 2008.1,820.4 2008.7,824.4 2009.4,827.4 2009.8,830.0 2010.3,833.4 2011.2,836.4 2011.8,839.9 2012.3,843.2 2013.5,845.7 2014.3,847.2 2016.1,850.0 2018.5,852.7 2021.3,855.5 2023.6,856.8 2025.8,857.6 2028.4,858.3 2031.3,859.9 2034.2,860.4 2036.8,861.4 2039.4,862.3 2041.9,864.3 2044.4,865.7 2047.1,867.5 2050.1,868.9 2052.5,870.3 2054.9,871.0 2057.5,872.2 2060.8,872.5 2063.9,872.0 2066.5,871.8 2068.6,870.5 2070.9,868.2 2073.3,866.1 2075.7,864.3 2078.0,861.5 2080.4,858.7 2082.4,856.5 2084.3,855.1 2086.8,852.0 2089.0,850.5 2091.3,847.6 2093.5,846.7 2096.5,845.2 2099.7,845.7 2102.4,846.0 2104.7,846.6 2107.1,849.4 2109.5,852.2 2111.8,854.5 2113.6,856.4 2116.2,859.1 2118.6,861.3 2120.7,862.2 2123.1,863.2 2126.1,863.5 2129.4,863.6 2132.9,864.1 2136.1,864.2 2138.7,863.4 2141.7,863.5 2144.7,862.9 2147.9,863.0 2151.4,863.0 2154.4,861.8 2156.8,861.0 2159.6,860.2 2162.7,857.9 2165.6,856.4 2168.1,854.9 2170.9,853.6 2173.5,851.8 2176.2,851.0 2178.5,852.4 2181.6,853.6 2184.0,855.0 2186.9,854.9 2190.5,855.3 2193.1,855.0 2195.3,853.3 2198.0,850.3 2200.4,848.0 2202.1,845.6 2203.1,843.3 2204.1,840.8 2205.2,836.8 2206.0,833.5 2206.6,830.6 2207.3,827.8 2207.7,824.4 2208.3,821.0 2208.9,818.0 2209.4,815.5 2209.9,812.3 2210.3,809.9 2210.9,807.4 2211.4,803.5 2211.6,801.0 2212.1,796.9 2212.8,794.6 2213.2,790.9 2213.6,788.2 2213.9,783.9 2214.5,781.1 2214.9,778.2 2215.4,775.2 2215.6,772.7 2215.9,770.8 2216.6,767.2 2216.9,765.2 2217.6,761.3 2218.2,758.4 2218.6,755.2 2219.0,752.4 2219.6,749.5 2220.4,746.2 2220.9,743.3 2221.4,739.5 2222.0,736.8 2222.4,734.0 2223.1,732.1 2223.7,729.3 2224.3,726.1 2225.1,722.3 2225.5,718.7 2226.6,715.6 2227.3,712.7 2228.4,709.6 2229.2,707.2 2230.7,705.3 2232.5,701.8 2234.3,699.4 2236.1,697.6 2237.0,695.7 2238.4,697.3 2240.1,698.8 2241.7,701.6 2243.7,704.8 2245.3,707.7 2246.3,709.7 2247.8,712.4 2249.3,716.1 2250.8,718.5 2252.0,721.1" stroke="#808000" stroke-width="10.8" stroke-linejoin="round" stroke-miterlimit="1.9"/>
<path d="M326.0,639.7 327.6,639.1 329.5,639.9 331.1,639.3 333.4,640.1 335.7,639.4 338.2,639.6 340.5,639.1 343.3,640.4 346.4,639.4 349.1,640.0 352.5,639.9 355.7,639.2 358.8,639.2 362.2,639.1 365.8,640.6 369.3,640.6 373.2,640.0 376.5,640.1 380.4,640.0 383.9,639.4 387.9,640.5 391.7,639.4 395.7,639.4 399.1,639.9 402.9,640.4 406.7,639.6 410.5,640.3 414.2,640.0 418.1,639.9 421.6,640.0 425.2,639.9 428.5,640.1 432.0,639.9 435.6,640.5 438.5,639.2 441.8,640.2 444.8,639.1 447.6,640.6 450.4,639.6 452.8,640.6 455.2,639.5 457.6,640.0 459.7,639.4 461.6,639.0 463.5,640.5 465.2,639.4 466.9,639.4 469.9,638.9 473.5,639.1 477.5,639.9 481.5,638.8 484.9,639.6 487.9,639.1 490.0,638.6 492.3,638.4 495.6,636.5 498.7,635.1 501.0,635.1 503.1,634.5 506.5,634.2 510.0,632.8 511.9,633.0 514.0,632.9 517.6,633.4 520.7,634.0 523.0,634.9 525.4,635.5 528.6,636.4 531.8,637.6 533.9,637.6 535.6,637.5 538.2,635.7 541.4,633.4 544.7,630.5 547.6,628.5 550.1,625.6 552.0,624.7 553.9,624.8 556.5,622.5 559.8,622.6 563.4,620.1 567.0,619.3 570.1,618.6 572.3,617.6 573.9,616.4 575.0,614.1 576.3,612.5 578.2,609.5 579.7,606.4 581.5,602.8 582.9,599.8 583.9,597.9 584.9,596.7 586.4,594.7 588.2,591.4 590.2,587.2 592.5,583.7 593.9,580.8 595.1,581.1 596.1,581.9 597.7,584.4 599.8,587.9 601.8,591.0 603.8,594.7 605.1,595.9 607.5,596.5 611.4,594.5 614.0,594.5 614.7,592.8 615.2,590.8 615.8,588.7 616.4,586.9 617.3,582.8 617.5,580.1 618.3,576.7 618.8,572.9 619.1,568.7 619.8,565.4 620.1,561.6 620.8,557.6 621.2,554.2 621.8,551.3 622.1,548.5 622.5,547.1 623.1,544.5 623.9,542.5 625.2,539.9 626.4,536.8 628.4,533.1 630.3,529.3 632.3,525.6 633.8,522.4 635.1,520.2 635.8,519.4 638.1,520.9 641.2,522.6 644.8,525.3 646.9,526.8 648.2,528.5 649.7,529.1 651.2,531.6 652.9,532.0 654.8,535.2 657.1,536.4 659.3,538.6 661.4,541.2 663.7,544.2 666.3,547.1 668.9,549.8 671.4,551.6 673.7,555.5 676.3,557.9 679.0,560.7 681.4,563.2 683.9,565.5 686.3,568.8 688.5,570.6 690.5,573.0 692.7,575.4 694.4,577.3 696.0,579.7 697.7,580.8 698.8,583.5 699.9,584.6 701.1,584.9 702.5,587.4 703.8,588.6 705.5,590.4 707.5,592.0 709.4,594.7 711.9,597.6 714.2,600.8 716.3,602.9 718.8,606.4 721.4,608.4 724.0,611.6 726.5,614.6 729.0,616.6 731.4,619.9 733.6,622.1 735.9,624.6 738.1,627.8 740.4,629.0 742.2,630.8 744.1,632.5 745.9,633.5 747.2,635.5 748.5,636.6 750.6,636.1 753.6,636.3 757.1,637.3 761.3,637.5 765.3,637.2 768.1,637.4 770.2,637.4 771.5,639.4 773.6,642.4 775.8,646.2 777.9,649.1 779.5,651.8 780.8,654.2 782.1,656.1 783.8,657.4 785.9,659.7 788.0,663.1 790.7,665.4 793.4,669.3 796.3,671.5 798.6,674.2 801.0,676.7 803.2,679.3 805.1,680.5 806.6,681.8 808.4,681.8 811.1,682.7 814.2,682.5 818.1,682.0 821.8,682.1 825.1,681.9 828.1,681.3 830.0,681.7 831.8,682.3 833.8,682.7 836.3,681.7 838.7,681.5 841.9,682.7 845.1,682.2 848.1,681.7 852.0,681.9 855.4,681.5 859.1,682.2 862.9,682.7 867.1,681.6 870.6,681.5 874.7,682.1 878.2,682.0 881.8,682.7 884.9,682.8 888.1,682.4 891.0,682.9 893.9,681.8 896.1,682.6 898.2,682.7 899.8,682.3 901.7,682.9 903.2,683.0 905.4,682.3 907.5,683.2 909.8,682.8 912.2,683.3 914.8,683.2 917.4,683.3 920.2,683.4 923.4,683.8 926.7,683.3 929.7,684.0 933.3,684.7 936.6,684.2 940.0,683.8 943.7,685.4 947.1,685.6 950.8,684.4 954.8,684.7 958.5,686.2 962.1,685.9 965.7,685.8 969.5,686.0 973.4,686.8 977.2,686.4 980.9,686.4 984.4,687.2 988.0,687.2 991.6,687.8 995.1,687.5 998.4,687.3 1001.5,688.3 1004.8,687.4 1007.6,687.9 1010.4,688.8 1013.2,688.5 1015.8,688.9 1018.4,687.9 1020.8,688.5 1022.7,688.3 1024.7,688.4 1026.5,688.2 1028.1,689.1 1029.6,688.3 1031.6,688.1 1033.7,688.9 1036.7,688.7 1039.3,688.0 1042.3,688.4 1045.8,687.7 1049.1,687.9 1052.8,687.2 1056.4,688.0 1060.2,687.5 1064.0,686.7 1067.6,687.3 1071.5,686.7 1075.2,685.8 1078.7,685.7 1082.2,685.3 1085.7,686.2 1088.5,686.2 1091.4,685.9 1094.1,685.7 1096.3,685.6 1098.4,685.8 1099.8,685.9 1101.3,685.7 1103.3,684.8 1105.4,685.4 1107.9,684.4 1110.0,683.7 1112.3,683.9 1115.7,684.1 1118.4,683.6 1121.6,685.0 1124.2,685.7 1127.5,685.9 1131.0,683.8 1134.8,685.3 1138.1,685.2 1141.8,684.6 1145.7,685.9 1149.3,685.2 1152.8,683.7 1157.1,683.9 1160.7,683.8 1164.1,684.2 1168.2,684.3 1172.1,685.7 1175.3,684.4 1179.0,683.9 1182.9,684.6 1185.7,683.4 1189.3,684.2 1192.1,683.3 1195.2,684.6 1198.6,685.3 1201.6,684.3 1204.2,684.3 1205.9,683.6 1208.5,684.1 1210.2,684.7 1212.1,684.8 1214.0,685.4 1215.1,684.9 1217.0,682.9 1219.2,683.9 1221.8,683.0 1224.9,685.1 1227.6,683.1 1230.8,683.0 1234.8,684.2 1237.6,684.1 1241.8,683.4 1245.5,682.7 1249.0,681.5 1252.7,683.2 1256.9,681.4 1260.1,683.1 1263.7,682.7 1267.7,682.2 1271.0,682.0 1274.3,682.4 1277.3,680.3 1280.8,680.3 1283.7,680.0 1285.6,681.2 1288.5,682.0 1290.1,680.0 1291.4,679.9 1293.6,679.4 1295.0,679.6 1297.3,679.3 1299.8,681.0 1302.5,678.8 1305.5,679.9 1309.3,679.8 1312.3,678.1 1315.8,679.1 1319.8,677.5 1322.9,678.9 1326.5,678.1 1330.5,677.6 1334.0,677.7 1338.1,675.3 1342.1,675.7 1345.1,674.3 1348.6,674.3 1352.3,675.8 1355.4,673.5 1358.4,673.4 1361.4,673.3 1363.9,672.8 1366.2,674.4 1368.0,672.1 1369.3,673.9 1371.0,674.2 1373.0,671.9 1375.5,673.8 1378.8,672.8 1382.3,672.8 1384.9,673.0 1388.5,672.5 1392.3,673.7 1396.2,673.1 1400.0,672.4 1403.9,671.9 1407.7,672.7 1410.7,673.2 1414.2,673.2 1417.5,673.5 1420.3,671.3 1422.8,672.1 1424.9,671.5 1426.7,671.7 1428.3,670.8 1431.1,669.4 1434.3,668.7 1437.5,668.9 1441.2,667.6 1444.6,665.7 1448.4,665.8 1452.0,664.7 1455.2,665.1 1457.8,661.9 1459.3,662.2 1461.5,662.0 1463.2,662.6 1465.7,662.3 1468.6,659.8 1471.7,661.0 1474.8,658.9 1478.1,657.7 1482.3,656.8 1485.6,657.8 1489.6,656.9 1493.0,655.6 1496.9,654.9 1500.3,653.9 1504.1,653.8 1507.0,652.2 1510.8,653.0 1513.4,652.4 1515.6,651.9 1517.7,651.2 1519.1,651.9 1520.9,651.7 1523.6,649.6 1526.7,650.9 1529.7,650.1 1533.0,649.7 1537.0,647.4 1540.7,647.4 1544.9,648.4 1548.6,646.3 1551.8,646.2 1555.2,647.3 1558.2,645.8 1560.5,644.9 1562.3,646.8 1565.0,643.9 1567.9,643.0 1568.8,642.0 1570.7,639.1 1571.7,635.9 1572.9,631.6 1573.9,630.4 1574.7,628.4 1575.9,626.4 1577.5,623.4 1579.1,620.4 1581.2,617.4 1582.6,613.4 1584.6,610.3 1586.1,608.0 1587.9,604.2 1589.0,602.6 1590.0,601.3 1590.7,600.1 1591.9,597.2 1593.7,594.0 1595.2,592.1 1596.9,588.4 1598.4,584.8 1600.1,581.9 1601.7,579.5 1603.0,577.2 1604.1,576.4 1605.8,573.5 1608.6,570.1 1611.2,567.9 1613.0,567.0 1614.4,567.9 1617.3,568.7 1620.0,572.1 1622.6,574.1 1624.5,575.7 1625.1,576.9 1626.4,580.0 1627.3,582.2 1628.6,585.4 1630.0,589.4 1631.0,592.4 1632.4,596.2 1633.3,599.6 1634.7,602.1 1635.2,603.9 1636.4,605.5 1637.0,607.6 1638.1,609.9 1639.8,612.2 1641.4,615.4 1643.4,617.6 1645.4,621.0 1647.6,623.9 1649.8,627.0 1651.8,631.3 1654.1,633.7 1655.9,636.9 1657.7,638.8 1659.0,640.4 1660.1,642.2 1662.8,643.1 1666.5,645.4 1669.1,646.1 1670.9,646.9 1672.8,646.8 1675.4,646.5 1678.5,647.9 1681.5,647.9 1685.2,648.3 1688.8,647.7 1692.4,647.9 1696.3,648.1 1700.6,648.8 1704.1,647.9 1708.1,647.7 1711.7,647.8 1714.8,648.6 1717.8,648.2 1720.8,646.8 1722.9,646.8 1724.9,646.7 1726.1,646.1 1727.2,645.3 1729.0,642.5 1731.0,639.1 1733.1,636.4 1734.0,634.3 1734.8,632.4 1736.4,630.6 1738.0,626.8 1739.7,622.7 1741.0,618.6 1742.5,617.2 1743.0,615.6 1744.0,617.4 1745.6,620.2 1748.0,623.0 1750.1,626.7 1751.6,628.4 1753.7,627.9 1757.0,628.4 1759.2,629.3 1759.7,628.5 1761.0,625.8 1761.8,622.8 1762.8,620.0 1763.6,615.5 1764.5,612.2 1765.5,608.0 1766.1,604.4 1766.7,601.8 1767.3,600.5 1767.5,598.8 1768.0,596.2 1768.6,593.7 1768.8,589.5 1769.7,587.4 1770.2,582.6 1770.9,579.1 1771.8,575.5 1772.4,572.2 1773.1,569.0 1773.8,566.6 1774.3,564.4 1775.2,563.0 1776.3,561.7 1778.7,558.1 1781.5,554.6 1783.0,553.8 1784.5,554.4 1787.4,555.9 1790.2,559.2 1792.1,560.1 1793.3,562.2 1795.1,563.4 1796.8,565.5 1798.8,567.6 1801.3,569.4 1803.7,571.8 1806.1,575.4 1809.1,577.3 1811.9,581.3 1814.6,583.3 1817.2,586.8 1819.8,589.0 1822.3,591.7 1824.9,594.8 1827.5,596.2 1829.4,599.2 1831.3,600.2 1833.1,601.3 1834.5,602.1 1835.7,602.6 1836.8,601.9 1839.2,601.0 1842.0,598.9 1845.4,597.6 1848.5,594.3 1851.2,592.6 1854.0,590.3 1855.3,589.0 1856.8,588.5 1858.5,586.4 1860.8,583.3 1863.6,580.9 1865.9,577.3 1868.1,574.6 1869.8,572.3 1870.9,570.6 1872.2,569.5 1873.3,567.8 1874.5,565.0 1876.1,561.9 1877.8,559.2 1879.4,556.0 1881.3,552.8 1883.1,548.7 1884.9,545.6 1886.3,543.3 1887.7,540.6 1888.7,538.7 1889.6,537.0 1890.6,535.5 1891.8,533.6 1892.8,530.1 1894.7,527.4 1896.2,524.6 1897.9,521.4 1899.8,518.4 1901.6,514.4 1903.4,512.1 1905.1,508.5 1906.8,505.6 1908.4,502.9 1909.5,500.8 1910.7,499.3 1912.0,498.3 1914.4,496.6 1917.0,493.2 1919.2,491.3 1920.6,490.2 1922.0,491.8 1924.6,493.3 1927.8,496.2 1930.3,498.9 1931.7,500.4 1932.7,501.3 1933.7,504.7 1934.5,506.7 1935.7,510.8 1937.0,514.8 1938.2,517.7 1939.3,521.9 1940.5,524.2 1941.3,526.7 1942.2,529.6 1942.9,530.4 1944.2,533.4 1946.0,536.0 1947.8,539.3 1949.7,543.3 1951.8,546.5 1953.9,548.8 1956.1,552.1 1957.8,554.6 1959.6,556.4 1960.6,558.6 1962.7,558.9 1966.0,559.5 1969.7,559.5 1973.7,559.6 1977.0,559.5 1979.2,560.0 1980.6,561.6 1983.2,564.0 1985.4,567.1 1986.8,568.3 1988.4,570.3 1990.2,573.2 1992.4,576.4 1994.4,580.2 1996.1,583.0 1997.7,583.9 1998.7,585.6 2000.6,587.5 2002.5,590.9 2004.9,593.0 2007.2,595.7 2009.4,597.8 2010.7,598.7 2013.0,600.1 2016.4,599.4 2018.8,600.0 2020.6,598.9 2023.7,598.6 2027.0,596.7 2029.9,595.1 2031.9,592.9 2033.6,592.2 2036.9,589.8 2039.9,587.5 2043.2,586.8 2045.1,585.2 2047.6,586.2 2051.5,587.2 2053.9,588.4 2055.5,590.2 2057.5,592.0 2059.8,594.5 2061.7,598.0 2063.5,599.1 2065.6,599.7 2069.1,601.1 2073.0,601.8 2076.6,601.6 2079.0,602.6 2081.4,602.9 2085.2,604.9 2089.1,604.9 2092.5,605.9 2095.0,607.2 2096.8,607.4 2099.9,607.0 2103.4,607.4 2107.5,607.0 2111.1,607.3 2113.9,607.7 2115.9,606.8 2117.8,605.8 2120.3,605.1 2123.3,602.9 2126.6,601.8 2129.8,600.2 2132.9,598.5 2135.5,596.8 2137.3,595.7 2139.2,596.0 2141.6,593.4 2145.0,592.1 2148.6,591.2 2151.8,589.8 2155.4,588.4 2157.7,586.8 2159.5,586.2 2161.1,584.9 2163.2,583.1 2165.5,579.6 2168.2,576.8 2170.9,574.5 2172.6,572.1 2173.9,571.2 2174.7,569.4 2176.1,566.5 2177.8,564.5 2179.2,561.1 2181.1,558.1 2182.6,554.3 2183.6,551.8 2184.4,550.4 2185.3,548.3 2187.0,545.5 2188.8,541.8 2190.4,538.1 2191.8,534.9 2192.4,534.7 2193.2,534.8 2195.0,538.6 2196.8,542.6 2198.8,545.7 2200.4,547.1 2202.6,548.8 2206.3,550.9 2208.1,552.1 2208.6,550.5 2209.6,548.1 2210.3,545.5 2211.4,542.2 2212.1,538.0 2213.2,534.6 2213.6,531.3 2214.2,528.2 2214.7,526.2 2214.9,524.6 2215.1,522.2 2215.4,520.1 2216.0,516.8 2216.3,513.5 2216.4,510.6 2216.6,506.7 2217.0,503.6 2217.6,499.5 2217.7,496.0 2218.3,492.5 2218.4,488.8 2218.6,485.7 2219.1,483.1 2219.3,479.7 2219.9,478.5 2219.8,476.3 2220.2,475.2 2221.1,472.6 2221.9,469.4 2223.0,465.4 2224.3,462.2 2225.3,457.5 2226.6,454.0 2227.4,452.2 2228.4,449.1 2229.1,447.5 2230.5,445.2 2232.8,442.9 2235.2,439.5 2236.4,439.1 2237.4,439.8 2238.7,443.6 2240.1,447.0 2241.4,450.2 2242.3,451.5 2245.1,450.9 2249.1,451.4 2252.0,451.3" stroke="#ff0000" stroke-width="10.6" stroke-linejoin="round" stroke-miterlimit="1.9"/>
<line x1="2247.5" y1="906" x2="2247.5" y2="957" stroke="#00ffff" stroke-width="9" stroke-linecap="butt"/>
<line x1="2248" y1="1255" x2="2248" y2="1305" stroke="#ffff00" stroke-width="8" stroke-linecap="butt"/>
</g>
<g stroke="#222" stroke-width="3.7" fill="none" stroke-dasharray="24 10">
<line x1="617.0" y1="480.6" x2="617.4" y2="1590"/>
<line x1="809.5" y1="596" x2="829.1" y2="1592"/>
<line x1="1616.5" y1="194.4" x2="1609.4" y2="1023"/>
<line x1="1754.6" y1="255.7" x2="1761.5" y2="1024"/>
<line x1="1872.7" y1="348.8" x2="1877.3" y2="1001.5"/>
<line x1="2160" y1="379" x2="2157.7" y2="1590"/>
<line x1="2235" y1="241" x2="2240.5" y2="1590"/>
</g>
<line x1="829.3" y1="1600" x2="830.6" y2="1668" stroke="#6a6a6a" stroke-width="3.4" stroke-dasharray="12 9 100 0"/>
<rect x="2238.6" y="1605" width="4" height="4" fill="#444"/>
<rect x="2132" y="1523.5" width="3.5" height="3" fill="#999"/>
<line x1="2258.7" y1="79.7" x2="2258.7" y2="1593.8" stroke="#000" stroke-width="13.3" stroke-linecap="round" />
<g stroke="#000" stroke-linecap="round" fill="none">
<line x1="591.1" y1="1570" x2="591.1" y2="1592" stroke-width="12.8"/>
<line x1="860.2" y1="1570" x2="860.2" y2="1592" stroke-width="12.8"/>
<line x1="1129.3" y1="1570" x2="1129.3" y2="1592" stroke-width="12.8"/>
<line x1="1398.4" y1="1570" x2="1398.4" y2="1592" stroke-width="12.8"/>
<line x1="1667.5" y1="1570" x2="1667.5" y2="1592" stroke-width="12.8"/>
<line x1="1936.6" y1="1570" x2="1936.6" y2="1592" stroke-width="12.8"/>
<line x1="2205.7" y1="1570" x2="2205.7" y2="1592" stroke-width="12.8"/>
<path d="M451.6,1592 V1580 q0,-2 2,-2 H459.6 q2,0 2,2 V1592 Z" fill="#000" stroke="none"/>
<path d="M720.7,1592 V1580 q0,-2 2,-2 H728.7 q2,0 2,2 V1592 Z" fill="#000" stroke="none"/>
<path d="M989.8,1592 V1580 q0,-2 2,-2 H997.8 q2,0 2,2 V1592 Z" fill="#000" stroke="none"/>
<path d="M1258.9,1592 V1580 q0,-2 2,-2 H1266.9 q2,0 2,2 V1592 Z" fill="#000" stroke="none"/>
<path d="M1528.0,1592 V1580 q0,-2 2,-2 H1536.0 q2,0 2,2 V1592 Z" fill="#000" stroke="none"/>
<path d="M1797.0,1592 V1580 q0,-2 2,-2 H1805.0 q2,0 2,2 V1592 Z" fill="#000" stroke="none"/>
<path d="M2066.2,1592 V1580 q0,-2 2,-2 H2074.2 q2,0 2,2 V1592 Z" fill="#000" stroke="none"/>
</g>
<g fill="#000" stroke="none">
<path d="M1681,1140.5 L1695.0,1167.5 L1685.6,1167.5 L1685.6,1256 L1676.4,1256 L1676.4,1167.5 L1667.0,1167.5 Z"/>
<path d="M1863,1127.4 L1877.0,1154.4 L1867.6,1154.4 L1867.6,1198.5 L1858.4,1198.5 L1858.4,1154.4 L1849.0,1154.4 Z"/>
<path d="M2059,1002.6 L2073.0,1029.6 L2064.8,1029.6 L2064.8,1077.2 L2053.2,1077.2 L2053.2,1029.6 L2045.0,1029.6 Z"/>
<path d="M1894,1354.2 L1908.0,1381.2 L1898.6,1381.2 L1898.6,1451.5 L1889.4,1451.5 L1889.4,1381.2 L1880.0,1381.2 Z"/>
<path d="M1968.8,1254.7 L1982.8,1281.7 L1973.3999999999999,1281.7 L1973.3999999999999,1404 L1964.2,1404 L1964.2,1281.7 L1954.8,1281.7 Z"/>
</g>
<rect x="339" y="106.3" width="544.2" height="275.4" fill="#fff" stroke="#111" stroke-width="5"/>
<g stroke-linecap="round" fill="none">
<line x1="351" y1="133.8" x2="501" y2="133.8" stroke="#ffff00" stroke-width="10.4"/>
<line x1="351" y1="203.7" x2="501" y2="203.7" stroke="#00ffff" stroke-width="8.8"/>
<line x1="351" y1="274" x2="501" y2="274" stroke="#808000" stroke-width="6.6"/>
<line x1="351" y1="344.7" x2="501" y2="344.7" stroke="#ff0000" stroke-width="9.4"/>
</g>
<text transform="translate(1466.94,157.51) scale(1.0567,1)" font-family='"Liberation Serif", serif' font-weight="bold" font-size="78.81" fill="#000" letter-spacing="2.66">1625</text>
<text transform="translate(1659.85,222.85) scale(1.0865,1)" font-family='"Liberation Serif", serif' font-weight="bold" font-size="75.41" fill="#000" letter-spacing="3.76">1410</text>
<text transform="translate(1803.97,327.65) scale(1.1098,1)" font-family='"Liberation Serif", serif' font-weight="bold" font-size="74.67" fill="#000" letter-spacing="4.50">1190</text>
<text transform="translate(2048.37,356.25) scale(1.0850,1)" font-family='"Liberation Serif", serif' font-weight="bold" font-size="74.52" fill="#000" letter-spacing="4.14">520</text>
<text transform="translate(2121.78,225.24) scale(1.0694,1)" font-family='"Liberation Serif", serif' font-weight="bold" font-size="76.12" fill="#000" letter-spacing="3.62">464</text>
<text transform="translate(438.33,470.04) scale(1.0786,1)" font-family='"Liberation Serif", serif' font-weight="bold" font-size="75.82" fill="#000" letter-spacing="3.55">3475</text>
<text transform="translate(813.37,582.65) scale(1.1030,1)" font-family='"Liberation Serif", serif' font-weight="bold" font-size="75.41" fill="#000" letter-spacing="4.38">3110</text>
<text transform="translate(1479.62,1315.29) scale(1.1211,1)" font-family='"Liberation Serif", serif' font-weight="bold" font-size="71.11" fill="#000" letter-spacing="4.83">1498</text>
<text transform="translate(1718.88,1278.97) scale(1.1010,1)" font-family='"Liberation Serif", serif' font-weight="bold" font-size="72.89" fill="#000" letter-spacing="4.19">1290</text>
<text transform="translate(1991.66,1161.44) scale(1.0714,1)" font-family='"Liberation Serif", serif' font-weight="bold" font-size="75.85" fill="#000" letter-spacing="3.59">832</text>
<text transform="translate(1778.01,1536.78) scale(1.1070,1)" font-family='"Liberation Serif", serif' font-weight="bold" font-size="72.15" fill="#000" letter-spacing="4.38">1039</text>
<text transform="translate(1948.99,1474.26) scale(1.0861,1)" font-family='"Liberation Serif", serif' font-weight="bold" font-size="73.88" fill="#000" letter-spacing="4.22">915</text>
<text transform="translate(244.44,1674.14) scale(1.0771,1)" font-family='"Liberation Sans", sans-serif' font-weight="bold" font-size="65.63" fill="#000" stroke="#000" stroke-width="1.40" stroke-linejoin="round">4000</text>
<text transform="translate(512.21,1674.14) scale(1.0912,1)" font-family='"Liberation Sans", sans-serif' font-weight="bold" font-size="65.63" fill="#000" stroke="#000" stroke-width="1.40" stroke-linejoin="round">3500</text>
<text transform="translate(781.72,1674.14) scale(1.0835,1)" font-family='"Liberation Sans", sans-serif' font-weight="bold" font-size="65.63" fill="#000" stroke="#000" stroke-width="1.40" stroke-linejoin="round">3000</text>
<text transform="translate(1050.41,1674.14) scale(1.0835,1)" font-family='"Liberation Sans", sans-serif' font-weight="bold" font-size="65.63" fill="#000" stroke="#000" stroke-width="1.40" stroke-linejoin="round">2500</text>
<text transform="translate(1319.79,1674.14) scale(1.0913,1)" font-family='"Liberation Sans", sans-serif' font-weight="bold" font-size="65.63" fill="#000" stroke="#000" stroke-width="1.40" stroke-linejoin="round">2000</text>
<text transform="translate(1590.35,1674.14) scale(1.0672,1)" font-family='"Liberation Sans", sans-serif' font-weight="bold" font-size="65.63" fill="#000" stroke="#000" stroke-width="1.40" stroke-linejoin="round">1500</text>
<text transform="translate(1858.20,1674.14) scale(1.0780,1)" font-family='"Liberation Sans", sans-serif' font-weight="bold" font-size="65.63" fill="#000" stroke="#000" stroke-width="1.40" stroke-linejoin="round">1000</text>
<text transform="translate(2146.16,1674.14) scale(1.0890,1)" font-family='"Liberation Sans", sans-serif' font-weight="bold" font-size="65.63" fill="#000" stroke="#000" stroke-width="1.40" stroke-linejoin="round">500</text>
<text transform="translate(523.04,148.00) scale(1.2206,1)" font-family='"Liberation Sans", sans-serif' font-weight="bold" font-size="44.93" fill="#000">HMMT</text>
<text transform="translate(521.83,221.80) scale(1.1378,1)" font-family='"Liberation Sans", sans-serif' font-weight="bold" font-size="46.96" fill="#000">PANI-HMMT</text>
<text transform="translate(521.91,289.83) scale(1.1030,1)" font-family='"Liberation Sans", sans-serif' font-weight="bold" font-size="47.32" fill="#000">CNx-HMMT</text>
<text transform="translate(516.60,361.95) scale(0.9979,1)" font-family='"Liberation Sans", sans-serif' font-weight="bold" font-size="52.35" fill="#000">Pd/CNx-HMMT</text>
<g><text transform="translate(198.16,1100.88) rotate(-90) scale(1.0510,1)" font-family='"Liberation Serif", serif' font-weight="bold" font-size="83.69" fill="#000">Absorbance</text> <text transform="translate(204.06,645.72) rotate(-90) scale(1.0988,1)" font-family='"Liberation Serif", serif' font-weight="bold" font-size="89.41" fill="#000">%</text></g>
<g><text transform="translate(935.01,1800.30) scale(1.0754,1)" font-family='"Liberation Serif", serif' font-weight="bold" font-size="80.14" fill="#000">Wavenumber</text> <text transform="translate(1449.76,1795.61) scale(0.7901,1)" font-family='"Liberation Sans", sans-serif' font-weight="bold" font-size="71.87" fill="#000">(</text><text transform="translate(1475.09,1797.32) scale(1.0689,1)" font-family='"Liberation Sans", sans-serif' font-weight="bold" font-size="68.00" fill="#000">cm</text><text transform="translate(1582.32,1763.50) scale(0.5882,1)" font-family='"Liberation Sans", sans-serif' font-weight="bold" font-size="50.00" fill="#000">-</text><text transform="translate(1593.54,1761.20) scale(0.7929,1)" font-family='"Liberation Sans", sans-serif' font-weight="bold" font-size="37.97" fill="#000" stroke="#000" stroke-width="1.00" stroke-linejoin="round">1</text><text transform="translate(1616.61,1795.61) scale(1.0932,1)" font-family='"Liberation Sans", sans-serif' font-weight="bold" font-size="71.87" fill="#000">)</text></g>
</svg></body></html>
